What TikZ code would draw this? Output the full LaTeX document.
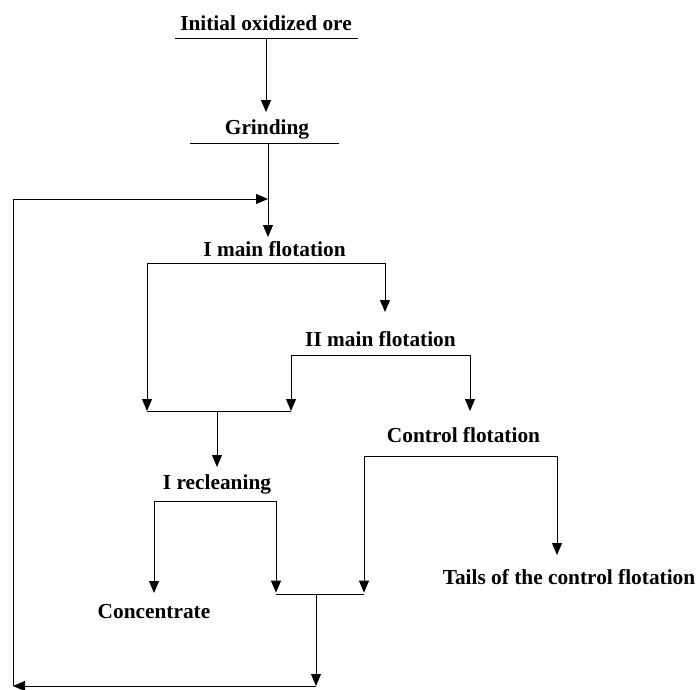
\documentclass[tikz,border=0pt]{standalone}
\usepackage{fontspec}
\setmainfont{Liberation Serif}
\usetikzlibrary{arrows.meta}

\begin{document}
\begin{tikzpicture}[x=0.75pt,y=-0.75pt,
  lbl/.style={font=\bfseries\fontsize{16}{19}\selectfont, inner sep=0pt, anchor=base},
  flow/.style={line width=0.7pt},
  tip/.style={flow, -{Triangle[length=9pt,width=7.5pt]}}]
  \useasboundingbox (0,0) rectangle (698,689);
  % stages
  \node[lbl] (ore) at (266,30.5) {Initial oxidized ore};
  \node[lbl] (grind) at (267,134.5) {Grinding};
  \node[lbl] (main1) at (274.5,256.5) {I main flotation};
  \node[lbl] (main2) at (380.5,346.5) {II main flotation};
  \node[lbl] (control) at (463.5,442.5) {Control flotation};
  \node[lbl] (reclean) at (217,489) {I recleaning};
  \node[lbl] (conc) at (154,618.5) {Concentrate};
  \node[lbl] (tails) at (569,584) {Tails of the control flotation};

  % junction points
  \coordinate (ore-l) at (175,38);   \coordinate (ore-r) at (358,38);
  \coordinate (ore-o) at (266,38);   \coordinate (grind-i) at (266,112);
  \coordinate (grind-l) at (190,143); \coordinate (grind-r) at (339,143);
  \coordinate (grind-o) at (268,143); \coordinate (feed) at (268,199);
  \coordinate (main1-i) at (268,237);
  \coordinate (main1-o) at (266,263);
  \coordinate (main2-i) at (385,312);
  \coordinate (main2-o) at (380,355);
  \coordinate (col1-l) at (147,411); \coordinate (col1-r) at (291,411);
  \coordinate (col1-o) at (217,411);
  \coordinate (control-i) at (470,411);
  \coordinate (reclean-i) at (217,467);
  \coordinate (reclean-o) at (217,501);
  \coordinate (conc-i) at (154,593);
  \coordinate (col2-l) at (276,594); \coordinate (col2-r) at (364,594);
  \coordinate (col2-o) at (316,594);
  \coordinate (control-o) at (460,456);
  \coordinate (tails-i) at (557,555);
  \coordinate (back-r) at (316,686); \coordinate (back-l) at (13,686);

  \draw[flow] (ore-l) -- (ore-r);
  \draw[flow] (grind-l) -- (grind-r);
  \draw[tip] (ore-o) -- (grind-i);
  \draw[tip] (grind-o) -- (main1-i);

  \draw[tip] (main1-o) -| (col1-l);
  \draw[tip] (main1-o) -| (main2-i);
  \draw[tip] (main2-o) -| (col1-r);
  \draw[tip] (main2-o) -| (control-i);
  \draw[flow] (col1-l) -- (col1-r);
  \draw[tip] (col1-o) -- (reclean-i);

  \draw[tip] (reclean-o) -| (conc-i);
  \draw[tip] (reclean-o) -| ([yshift=1]col2-l);
  \draw[tip] (control-o) -| ([yshift=1]col2-r);
  \draw[tip] (control-o) -| (tails-i);
  \draw[flow] (col2-l) -- (col2-r);

  % return of the middlings
  \draw[tip] (col2-o) -- (back-r);
  \draw[tip] (back-r) -- (back-l);
  \draw[tip] (back-l) |- (feed);
\end{tikzpicture}
\end{document}
